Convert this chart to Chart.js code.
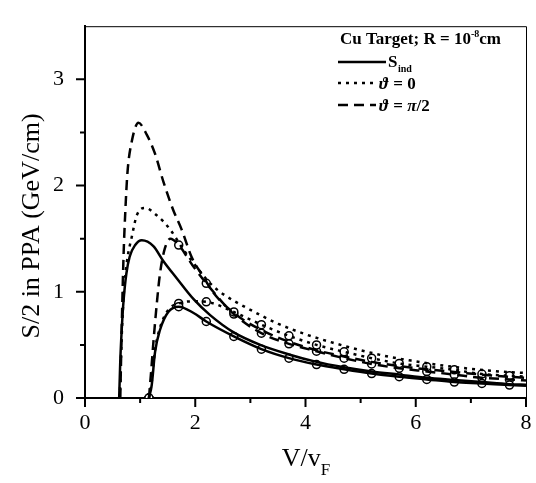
<!DOCTYPE html>
<html>
<head>
<meta charset="utf-8">
<script src="https://cdn.jsdelivr.net/npm/chart.js"></script>
<style>
  html, body { margin: 0; padding: 0; background: #fff; }
  #wrap { width: 536px; height: 483px; }
</style>
</head>
<body>
<div id="wrap"><canvas id="chart" width="536" height="483"></canvas></div>
<script>
// Upper curves (start near V/vF = 0.62)
const sIndX = [0.62, 0.64, 0.67, 0.70, 0.75, 0.81, 0.91, 1.03, 1.24, 1.42, 1.66, 1.97, 2.27, 2.69, 3.18, 3.7, 4.2, 4.7, 5.2, 5.7, 6.2, 6.7, 7.2, 7.7, 8.0];
const sIndY = [0, 0.35, 0.68, 0.92, 1.17, 1.33, 1.44, 1.485, 1.43, 1.29, 1.13, 0.93, 0.78, 0.62, 0.50, 0.41, 0.34, 0.29, 0.25, 0.22, 0.19, 0.17, 0.15, 0.13, 0.125];

const theta0X = [0.63, 0.66, 0.70, 0.76, 0.85, 0.94, 1.09, 1.30, 1.54, 1.78, 2.03, 2.27, 2.5, 3.0, 3.5, 4.0, 4.5, 5.0, 5.5, 6.0, 6.5, 7.0, 7.5, 8.0];
const theta0Y = [0, 0.5, 0.95, 1.28, 1.52, 1.72, 1.79, 1.72, 1.59, 1.40, 1.23, 1.08, 0.98, 0.83, 0.70, 0.60, 0.52, 0.45, 0.39, 0.345, 0.305, 0.275, 0.25, 0.235];

const theta90X = [0.64, 0.67, 0.70, 0.73, 0.77, 0.85, 0.97, 1.12, 1.27, 1.42, 1.6, 1.75, 1.94, 2.15, 2.33, 2.7, 3.2, 3.7, 4.2, 4.7, 5.2, 5.7, 6.2, 6.7, 7.2, 7.7, 8.0];
const theta90Y = [0, 0.75, 1.35, 1.74, 2.12, 2.42, 2.59, 2.48, 2.30, 2.04, 1.77, 1.59, 1.32, 1.14, 0.99, 0.80, 0.64, 0.53, 0.45, 0.39, 0.34, 0.30, 0.27, 0.245, 0.22, 0.20, 0.19];

// Lower curves with open circles (start near V/vF = 1.16)
const sIndCircX = [1.16, 1.21, 1.27, 1.36, 1.51, 1.7, 1.97, 2.2, 2.7, 3.2, 3.7, 4.2, 4.7, 5.2, 5.7, 6.2, 6.7, 7.2, 7.7, 8.0];
const sIndCircY = [0, 0.12, 0.43, 0.64, 0.81, 0.86, 0.80, 0.72, 0.58, 0.46, 0.375, 0.315, 0.27, 0.23, 0.20, 0.175, 0.15, 0.137, 0.122, 0.115];

const theta0CircX = [1.16, 1.21, 1.27, 1.36, 1.51, 1.7, 1.95, 2.2, 2.7, 3.2, 3.7, 4.2, 4.7, 5.2, 5.7, 6.2, 6.7, 7.2, 7.7, 8.0];
const theta0CircY = [0, 0.15, 0.45, 0.66, 0.83, 0.89, 0.91, 0.905, 0.81, 0.69, 0.585, 0.50, 0.435, 0.375, 0.325, 0.295, 0.265, 0.225, 0.21, 0.2];

const theta90CircX = [1.16, 1.20, 1.24, 1.30, 1.36, 1.45, 1.55, 1.7, 1.95, 2.2, 2.7, 3.2, 3.7, 4.2, 4.7, 5.2, 5.7, 6.2, 6.7, 7.2, 7.7, 8.0];
const theta90CircY = [0, 0.25, 0.52, 0.875, 1.17, 1.41, 1.50, 1.44, 1.25, 1.08, 0.79, 0.61, 0.51, 0.44, 0.375, 0.32, 0.28, 0.25, 0.22, 0.19, 0.175, 0.165];

// x positions where the open circles sit
const markerX = [1.16, 1.7, 2.2, 2.7, 3.2, 3.7, 4.2, 4.7, 5.2, 5.7, 6.2, 6.7, 7.2, 7.7];

// Axis ticks
const xTicks = [0, 2, 4, 6, 8];
const xMinor = [1, 3, 5, 7];
const yTicks = [0, 1, 2, 3];
const yMinor = [0.5, 1.5, 2.5];

const SERIF = '"Liberation Serif", "Times New Roman", serif';

function pts(xs, ys) {
  return xs.map((x, i) => ({ x: x, y: ys[i] }));
}

function markerPts(xs, ys) {
  return pts(xs, ys).filter(p => markerX.some(m => Math.abs(m - p.x) < 1e-6));
}

function lineSet(data, dash) {
  const ds = {
    data: data,
    showLine: true,
    borderColor: '#000',
    borderWidth: 2.5,
    borderCapStyle: 'butt',
    pointRadius: 0,
    cubicInterpolationMode: 'monotone',
    fill: false
  };
  if (dash.length) {
    // segment styling makes Chart.js stroke the path directly with the dash
    ds.borderDash = dash;
    ds.segment = { borderDash: () => dash };
  }
  return ds;
}

function circleSet(data) {
  return {
    data: data,
    showLine: false,
    pointRadius: 4,
    pointBackgroundColor: '#fff',
    pointBorderColor: '#000',
    pointBorderWidth: 1.5
  };
}

const DOT = [3, 5];
const DASH = [10, 6];

// Ticks, frame, axis titles and legend drawn on top of the chart
const decorPlugin = {
  id: 'decor',
  afterDraw(chart) {
    const ctx = chart.ctx;
    const xs = chart.scales.x;
    const ys = chart.scales.y;
    const a = chart.chartArea;
    ctx.save();
    ctx.strokeStyle = '#000';
    ctx.fillStyle = '#000';

    // thin frame on top and right
    ctx.lineWidth = 1;
    ctx.beginPath();
    ctx.moveTo(a.left, a.top + 0.5);
    ctx.lineTo(a.right + 0.5, a.top + 0.5);
    ctx.lineTo(a.right + 0.5, a.bottom);
    ctx.stroke();

    // tick marks
    ctx.lineWidth = 2;
    ctx.beginPath();
    yTicks.forEach(v => { const p = ys.getPixelForValue(v); ctx.moveTo(a.left, p); ctx.lineTo(a.left - 9, p); });
    yMinor.forEach(v => { const p = ys.getPixelForValue(v); ctx.moveTo(a.left, p); ctx.lineTo(a.left - 5, p); });
    xTicks.forEach(v => { const p = xs.getPixelForValue(v); ctx.moveTo(p, a.bottom); ctx.lineTo(p, a.bottom + 9); });
    xMinor.forEach(v => { const p = xs.getPixelForValue(v); ctx.moveTo(p, a.bottom); ctx.lineTo(p, a.bottom + 5); });
    ctx.stroke();

    // y axis title
    ctx.save();
    ctx.translate(32, 226);
    ctx.rotate(-Math.PI / 2);
    ctx.font = '26px ' + SERIF;
    ctx.textAlign = 'center';
    ctx.textBaseline = 'middle';
    ctx.fillText('S/2 in PPA (GeV/cm)', 0, 0);
    ctx.restore();

    // x axis title V/v_F
    ctx.textAlign = 'left';
    ctx.textBaseline = 'alphabetic';
    ctx.font = '26px ' + SERIF;
    const main = 'V/v';
    const w = ctx.measureText(main).width;
    ctx.font = '17px ' + SERIF;
    const ws = ctx.measureText('F').width;
    const x0 = 306 - (w + ws) / 2;
    ctx.font = '26px ' + SERIF;
    ctx.fillText(main, x0, 466);
    ctx.font = '17px ' + SERIF;
    ctx.fillText('F', x0 + w, 475);

    // legend title
    let lx = 340;
    ctx.font = 'bold 17px ' + SERIF;
    ctx.fillText('Cu Target; R = 10', lx, 44);
    lx += ctx.measureText('Cu Target; R = 10').width;
    ctx.font = 'bold 10px ' + SERIF;
    ctx.fillText('-8', lx, 37);
    lx += ctx.measureText('-8').width;
    ctx.font = 'bold 17px ' + SERIF;
    ctx.fillText('cm', lx, 44);

    // legend samples
    ctx.lineWidth = 2.5;
    ctx.lineCap = 'butt';
    ctx.setLineDash([]);
    ctx.beginPath(); ctx.moveTo(338, 62); ctx.lineTo(386, 62); ctx.stroke();
    ctx.setLineDash(DOT);
    ctx.beginPath(); ctx.moveTo(338, 83); ctx.lineTo(374, 83); ctx.stroke();
    ctx.setLineDash(DASH);
    ctx.beginPath(); ctx.moveTo(338, 105); ctx.lineTo(376, 105); ctx.stroke();
    ctx.setLineDash([]);

    ctx.font = 'bold 17px ' + SERIF;
    ctx.fillText('S', 388, 67);
    ctx.font = 'bold 10px ' + SERIF;
    ctx.fillText('ind', 398, 72);
    ctx.font = 'bold italic 17px ' + SERIF;
    ctx.fillText('\u03D1', 379, 89);
    ctx.fillText('\u03D1', 379, 111);
    ctx.font = 'bold 17px ' + SERIF;
    ctx.fillText(' = 0', 389, 89);
    ctx.fillText(' = ', 389, 111);
    const wEq = ctx.measureText(' = ').width;
    ctx.font = 'bold italic 17px ' + SERIF;
    ctx.fillText('\u03C0', 389 + wEq, 111);
    const wPi = ctx.measureText('\u03C0').width;
    ctx.font = 'bold 17px ' + SERIF;
    ctx.fillText('/2', 389 + wEq + wPi, 111);

    ctx.restore();
  }
};

const chart = new Chart(document.getElementById('chart'), {
  type: 'scatter',
  data: {
    datasets: [
      lineSet(pts(sIndX, sIndY), []),
      lineSet(pts(theta0X, theta0Y), DOT),
      lineSet(pts(theta90X, theta90Y), DASH),
      lineSet(pts(sIndCircX, sIndCircY), []),
      lineSet(pts(theta0CircX, theta0CircY), DOT),
      lineSet(pts(theta90CircX, theta90CircY), DASH),
      circleSet(markerPts(sIndCircX, sIndCircY)),
      circleSet(markerPts(theta0CircX, theta0CircY)),
      circleSet(markerPts(theta90CircX, theta90CircY))
    ]
  },
  options: {
    responsive: false,
    animation: false,
    layout: { padding: { top: 6, right: 10, left: 0, bottom: 0 } },
    plugins: {
      legend: { display: false },
      tooltip: { enabled: false }
    },
    scales: {
      x: {
        type: 'linear',
        min: 0,
        max: 8,
        grid: { display: false },
        border: { display: true, color: '#000', width: 2 },
        afterFit: s => { s.height = 85; },
        ticks: {
          stepSize: 2,
          includeBounds: false,
          padding: 4,
          color: '#000',
          font: { family: SERIF, size: 22 }
        }
      },
      y: {
        type: 'linear',
        min: 0,
        max: 3.5,
        grid: { display: false },
        border: { display: true, color: '#000', width: 2 },
        afterFit: s => { s.width = 85; },
        ticks: {
          stepSize: 1,
          includeBounds: false,
          padding: 13,
          color: '#000',
          font: { family: SERIF, size: 22 },
          callback: v => (Number.isInteger(v) ? String(v) : '')
        }
      }
    }
  },
  plugins: [decorPlugin]
});
</script>
</body>
</html>
